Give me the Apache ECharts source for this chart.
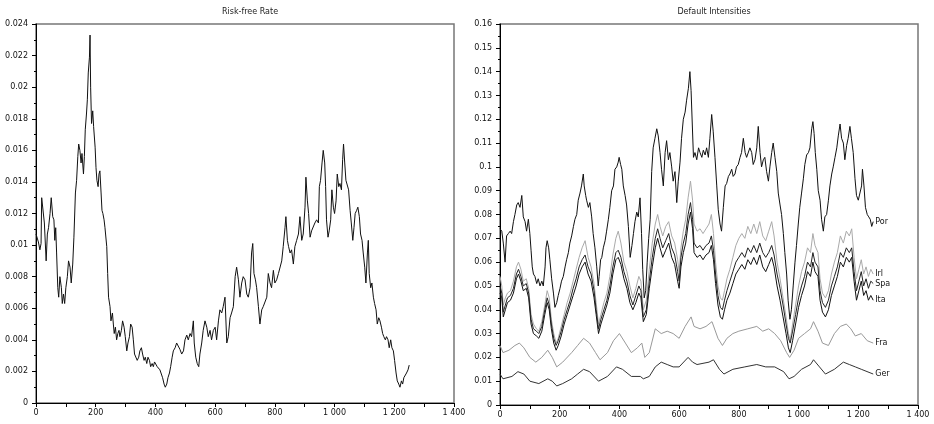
<!DOCTYPE html>
<html><head><meta charset="utf-8">
<script src="https://cdn.jsdelivr.net/npm/echarts@6/dist/echarts.min.js"></script>
<style>html,body{margin:0;padding:0;background:#fff}#c{width:934px;height:424px}</style>
</head><body><div id="c"></div>
<script>
// ---------- Risk-free rate ----------
const rfDays = [
0,8,13,17,19,25,28,34,38,42,
47,51,56,60,63,66,69,73,76,80,
85,88,92,96,100,105,109,114,118,123,
127,132,136,140,143,147,151,154,159,162,
165,169,172,175,179,181,183,186,190,193,
198,201,204,208,211,214,218,221,224,228,
231,237,240,243,248,251,256,259,262,266,
270,274,278,281,286,290,295,299,304,308,
313,317,322,326,330,335,339,344,348,353,
357,362,366,371,375,380,384,389,393,397,
402,406,411,415,420,424,429,433,438,442,
447,451,456,460,466,471,477,482,488,494,
499,505,510,516,521,527,530,535,540,545,
549,555,560,566,572,577,583,588,594,600,
605,611,616,622,627,633,639,644,650,655,
661,667,672,678,683,689,694,700,706,711,
717,722,726,730,735,739,745,750,756,761,
767,773,778,784,789,795,800,806,812,817,
823,828,834,837,842,846,851,856,862,867,
873,879,884,890,895,901,904,909,913,918,
923,929,934,940,946,949,953,958,962,967,
970,973,978,982,987,991,996,1000,1005,1009,
1014,1018,1023,1027,1030,1034,1038,1043,1047,1052,
1056,1061,1065,1069,1074,1078,1083,1087,1092,1096,
1101,1105,1110,1113,1116,1121,1125,1130,1134,1139,
1143,1148,1152,1157,1161,1165,1170,1174,1179,1183,
1188,1192,1197,1201,1206,1210,1215,1219,1224,1228,
1232,1237,1241,1246,1250];
const rfRates = [
.0107,.0102,.0097,.0101,.0130,.0130,.0114,.0090,.0107,.0111,
.0120,.0130,.0118,.0116,.0103,.0111,.0095,.0073,.0067,.0080,
.0073,.0063,.0069,.0063,.0073,.0080,.0090,.0086,.0076,.0088,
.0105,.0133,.0141,.0156,.0164,.0160,.0152,.0158,.0145,.0156,
.0173,.0183,.0192,.0209,.0219,.0233,.0200,.0177,.0185,.0175,
.0162,.0149,.0141,.0137,.0145,.0147,.0133,.0122,.0120,.0116,
.0111,.0099,.0082,.0067,.0061,.0052,.0057,.0050,.0044,.0048,
.0040,.0044,.0046,.0042,.0046,.0052,.0048,.0042,.0033,.0038,
.0042,.0050,.0048,.0040,.0031,.0031,.0027,.0029,.0033,.0035,
.0031,.0027,.0029,.0025,.0029,.0027,.0023,.0025,.0023,.0026,
.0025,.0023,.0023,.0021,.0020,.0016,.0012,.0010,.0012,.0016,
.0019,.0023,.0029,.0033,.0035,.0038,.0037,.0034,.0031,.0033,
.0040,.0043,.0040,.0044,.0042,.0052,.0038,.0029,.0025,.0023,
.0031,.0038,.0046,.0052,.0048,.0042,.0046,.0040,.0046,.0048,
.0040,.0052,.0059,.0057,.0061,.0067,.0038,.0042,.0054,.0057,
.0061,.0080,.0086,.0078,.0067,.0076,.0080,.0078,.0069,.0067,
.0073,.0095,.0101,.0082,.0078,.0073,.0061,.0050,.0059,.0061,
.0061,.0067,.0082,.0076,.0073,.0084,.0076,.0078,.0082,.0082,
.0090,.0099,.0111,.0118,.0103,.0099,.0095,.0097,.0088,.0099,
.0103,.0107,.0118,.0103,.0107,.0124,.0143,.0128,.0120,.0105,
.0109,.0109,.0114,.0116,.0114,.0137,.0141,.0152,.0160,.0152,
.0137,.0116,.0105,.0109,.0116,.0135,.0124,.0120,.0128,.0145,
.0137,.0139,.0135,.0154,.0164,.0152,.0141,.0141,.0135,.0122,
.0114,.0103,.0111,.0120,.0122,.0124,.0118,.0107,.0103,.0095,
.0086,.0076,.0095,.0103,.0082,.0073,.0076,.0067,.0063,.0059,
.0050,.0054,.0052,.0048,.0044,.0042,.0040,.0042,.0040,.0035,
.0040,.0035,.0033,.0027,.0019,.0014,.0012,.0010,.0014,.0012,
.0016,.0015,.0019,.0021,.0024];

// ---------- Default intensities ----------
const porDays = [
0,6,11,17,22,28,34,39,45,50,
56,61,67,73,78,84,89,95,100,104,
108,112,117,123,128,134,140,145,151,154,
158,163,167,173,179,184,190,195,201,206,
212,218,223,229,234,240,246,251,257,262,
268,273,279,282,287,290,296,301,307,312,
318,324,329,332,337,341,346,352,357,363,
368,374,380,385,391,396,399,404,408,413,
419,424,430,436,442,447,452,458,463,469,
474,478,483,488,493,498,503,508,513,519,
525,530,536,541,547,553,558,564,569,575,
580,586,592,597,603,608,614,620,625,631,
636,640,644,648,653,659,665,670,676,681,
687,692,698,703,709,714,720,726,731,737,
742,748,754,759,765,770,776,781,787,792,
798,804,809,815,821,826,832,837,843,848,
854,860,865,871,876,882,887,893,899,904,
910,915,921,927,932,938,943,949,954,960,
965,971,976,982,988,993,999,1004,1010,1016,
1021,1027,1033,1038,1044,1048,1052,1056,1061,1066,
1072,1077,1083,1088,1094,1100,1105,1111,1116,1122,
1128,1133,1139,1144,1150,1155,1161,1166,1172,1177,
1183,1189,1194,1200,1206,1211,1214,1219,1224,1230,
1235,1240,1245,1250];
const porVals = [
.074,.073,.068,.060,.071,.072,.073,.072,.077,.080,
.084,.085,.083,.088,.079,.077,.073,.078,.072,.065,
.058,.055,.054,.051,.053,.050,.052,.050,.058,.066,
.069,.066,.061,.053,.047,.041,.043,.046,.049,.052,
.054,.058,.061,.064,.068,.071,.075,.078,.080,.086,
.089,.092,.097,.092,.088,.086,.083,.085,.079,.072,
.066,.058,.050,.054,.061,.062,.066,.069,.073,.078,
.083,.090,.092,.099,.100,.102,.104,.101,.099,.092,
.088,.084,.075,.062,.067,.072,.077,.081,.079,.087,
.072,.057,.045,.048,.060,.070,.078,.098,.108,.112,
.116,.113,.106,.099,.092,.106,.111,.103,.106,.100,
.094,.098,.085,.094,.102,.112,.120,.123,.128,.133,
.140,.132,.118,.104,.106,.103,.108,.106,.104,.107,
.105,.108,.104,.112,.122,.115,.104,.092,.082,.076,
.073,.083,.092,.093,.096,.097,.099,.096,.097,.100,
.101,.104,.106,.112,.106,.104,.104,.108,.106,.101,
.103,.108,.117,.106,.100,.103,.104,.098,.094,.100,
.106,.110,.104,.098,.089,.084,.080,.072,.064,.055,
.044,.036,.040,.050,.060,.067,.076,.083,.089,.095,
.101,.105,.106,.108,.116,.119,.114,.106,.099,.090,
.086,.078,.073,.079,.080,.086,.092,.097,.100,.104,
.108,.113,.118,.112,.110,.103,.109,.112,.117,.112,
.106,.095,.088,.086,.086,.092,.099,.092,.083,.080,
.079,.078,.075,.077];

const clusterDays = [
0,6,11,18,25,35,45,55,62,70,
78,88,96,104,112,122,130,140,150,158,
165,172,180,188,195,205,215,225,235,245,
255,265,275,285,295,305,315,322,330,338,
348,358,368,378,388,396,405,415,425,435,
445,455,465,472,480,490,500,510,520,528,
536,545,555,565,575,585,595,600,606,614,
622,630,638,645,650,660,670,680,690,700,
708,715,722,730,738,745,752,760,770,780,
790,800,810,820,830,840,850,860,870,880,
890,900,910,918,928,938,948,958,966,972,
980,990,1000,1010,1020,1030,1040,1048,1055,1065,
1072,1080,1090,1100,1110,1120,1130,1140,1150,1160,
1170,1178,1186,1194,1202,1210,1218,1226,1234,1242,
1250];
const irlVals = [
.054,.050,.042,.045,.047,.048,.052,.058,.060,.057,
.052,.053,.049,.038,.034,.032,.031,.035,.042,.048,
.045,.036,.030,.026,.028,.033,.038,.043,.047,.052,
.057,.062,.066,.069,.062,.058,.051,.043,.034,.038,
.043,.047,.054,.063,.070,.073,.068,.060,.056,.050,
.045,.049,.054,.052,.040,.044,.057,.068,.076,.080,
.075,.071,.075,.077,.071,.068,.061,.056,.066,.073,
.078,.087,.094,.086,.076,.073,.074,.072,.074,.076,
.080,.072,.060,.050,.045,.044,.048,.053,.057,.062,
.067,.070,.072,.070,.075,.072,.076,.072,.077,.071,
.069,.073,.077,.071,.060,.053,.045,.037,.030,.027,
.034,.042,.050,.056,.060,.066,.064,.072,.067,.064,
.053,.047,.045,.048,.055,.060,.064,.071,.068,.073,
.071,.074,.062,.053,.057,.061,.055,.058,.054,.057,
.055];
const spaVals = [
.050,.047,.039,.042,.045,.046,.049,.055,.057,.054,
.050,.051,.047,.036,.032,.031,.030,.033,.040,.045,
.042,.034,.028,.025,.027,.031,.036,.040,.044,.049,
.053,.058,.061,.063,.058,.055,.048,.040,.032,.036,
.040,.044,.050,.058,.064,.065,.062,.056,.052,.046,
.042,.046,.050,.048,.037,.040,.052,.062,.070,.074,
.070,.066,.069,.072,.066,.063,.056,.052,.062,.068,
.072,.080,.085,.078,.068,.066,.067,.065,.067,.068,
.071,.065,.055,.046,.041,.040,.044,.048,.052,.056,
.060,.062,.064,.062,.066,.064,.067,.064,.068,.064,
.062,.064,.067,.063,.055,.049,.042,.034,.028,.026,
.031,.038,.045,.050,.054,.060,.058,.064,.060,.058,
.048,.043,.041,.044,.050,.054,.058,.064,.062,.066,
.064,.066,.056,.048,.052,.056,.050,.053,.049,.052,
.051];
const itaVals = [
.047,.045,.037,.040,.043,.044,.047,.053,.055,.052,
.048,.049,.045,.034,.030,.029,.028,.031,.038,.043,
.040,.032,.026,.023,.025,.029,.034,.038,.042,.046,
.050,.055,.058,.060,.055,.052,.045,.038,.030,.034,
.038,.042,.047,.055,.061,.062,.059,.053,.049,.043,
.040,.043,.047,.045,.035,.038,.049,.058,.066,.070,
.066,.062,.065,.068,.062,.059,.052,.049,.058,.064,
.068,.076,.081,.074,.064,.062,.063,.061,.063,.064,
.067,.061,.051,.042,.037,.036,.040,.044,.047,.051,
.055,.057,.059,.057,.061,.059,.062,.059,.063,.058,
.056,.059,.062,.058,.050,.044,.037,.030,.024,.022,
.027,.034,.041,.046,.050,.056,.054,.060,.056,.054,
.044,.039,.037,.040,.046,.050,.054,.060,.058,.062,
.060,.062,.052,.044,.048,.052,.046,.048,.044,.046,
.044];

const fraDays = [0,10,30,50,65,80,100,120,140,160,175,190,210,240,260,280,300,320,335,360,380,400,420,440,460,475,485,500,520,540,560,580,600,620,640,650,670,690,710,730,745,760,780,800,830,860,880,900,920,940,960,970,985,1000,1020,1040,1050,1065,1080,1100,1120,1140,1160,1175,1190,1210,1230,1250];
const fraVals = [.025,.022,.023,.025,.026,.024,.020,.018,.020,.023,.020,.016,.018,.022,.025,.028,.026,.022,.019,.022,.027,.030,.026,.022,.024,.026,.020,.022,.032,.030,.031,.030,.028,.033,.037,.033,.032,.033,.035,.028,.025,.028,.030,.031,.032,.033,.031,.032,.030,.027,.022,.020,.023,.028,.030,.032,.035,.031,.026,.025,.030,.033,.034,.032,.029,.030,.027,.026];

const gerDays = [0,10,40,60,80,100,130,160,175,190,210,240,260,280,300,330,360,390,410,440,470,480,500,520,540,560,580,600,630,645,660,700,715,735,750,780,820,860,890,920,950,968,985,1010,1040,1050,1070,1090,1120,1150,1170,1190,1210,1250];
const gerVals = [.013,.011,.012,.014,.013,.010,.009,.011,.010,.008,.009,.011,.013,.015,.014,.010,.012,.016,.015,.012,.012,.011,.012,.016,.018,.017,.016,.016,.020,.018,.017,.018,.019,.015,.013,.015,.016,.017,.016,.016,.014,.011,.012,.015,.017,.019,.016,.013,.015,.018,.017,.016,.015,.013];

// ---------- tick label helpers ----------
const xLabelFmt = v => (v % 200 === 0 ? (v >= 1000 ? Math.floor(v/1000) + ' ' + String(v % 1000).padStart(3,'0') : String(v)) : '');
const yLabelFmt = v => String(parseFloat(v.toFixed(4)));

const zip = (a, b) => a.map((d, i) => [d, b[i]]);
const FONT = 'DejaVu Sans';
const txt = {fontFamily: FONT, fontSize: 8, color: '#111'};

function xAx(gi) {
  return {type:'value', gridIndex:gi, min:0, max:1400, interval:100,
    axisLine:{show:true, onZero:false, lineStyle:{color:'#000', width:1}},
    axisTick:{show:true, length:4, lineStyle:{color:'#000'}},
    axisLabel:Object.assign({formatter:xLabelFmt, margin:6, showMinLabel:true, showMaxLabel:true}, txt),
    splitLine:{show:false}};
}
function yAx(gi, max, step) {
  return {type:'value', gridIndex:gi, min:0, max:max, interval:step,
    axisLine:{show:true, onZero:false, lineStyle:{color:'#000', width:1}},
    axisTick:{show:true, length:4, lineStyle:{color:'#000'}},
    minorTick:{show:true, splitNumber:2, length:2, lineStyle:{color:'#000'}},
    axisLabel:Object.assign({formatter:yLabelFmt, margin:8}, txt),
    splitLine:{show:false}};
}
function line(name, xi, data, color, endLabel) {
  const s = {name, type:'line', xAxisIndex:xi, yAxisIndex:xi, data, showSymbol:false, symbol:'none',
    lineStyle:{color, width:1}, itemStyle:{color}, emphasis:{disabled:true}, silent:true};
  if (endLabel) s.endLabel = Object.assign({show:true, formatter:name, distance:2}, txt, {color:'#111'});
  return s;
}

const chart = echarts.init(document.getElementById('c'), null, {renderer:'canvas'});
chart.setOption({
  animation:false,
  backgroundColor:'#fff',
  title:[
    {text:'Risk-free Rate', left:245, top:3, textAlign:'center', textStyle:{fontFamily:FONT, fontSize:8, fontWeight:'normal', color:'#222'}},
    {text:'Default Intensities', left:709, top:3, textAlign:'center', textStyle:{fontFamily:FONT, fontSize:8, fontWeight:'normal', color:'#222'}}
  ],
  grid:[
    {left:36, top:24, width:418, height:379, show:true, borderColor:'#777', borderWidth:1.5, backgroundColor:'transparent'},
    {left:500, top:24, width:418, height:381, show:true, borderColor:'#777', borderWidth:1.5, backgroundColor:'transparent'}
  ],
  xAxis:[xAx(0), xAx(1)],
  yAxis:[yAx(0, 0.024, 0.002), yAx(1, 0.16, 0.01)],
  series:[
    line('Risk-free', 0, zip(rfDays, rfRates), '#111', false),
    line('Ger', 1, zip(gerDays, gerVals), '#333', true),
    line('Fra', 1, zip(fraDays, fraVals), '#999', true),
    line('Irl', 1, zip(clusterDays, irlVals), '#aaa', true),
    line('Ita', 1, zip(clusterDays, itaVals), '#111', true),
    line('Spa', 1, zip(clusterDays, spaVals), '#222', true),
    line('Por', 1, zip(porDays, porVals), '#111', true)
  ]
});
</script></body></html>
